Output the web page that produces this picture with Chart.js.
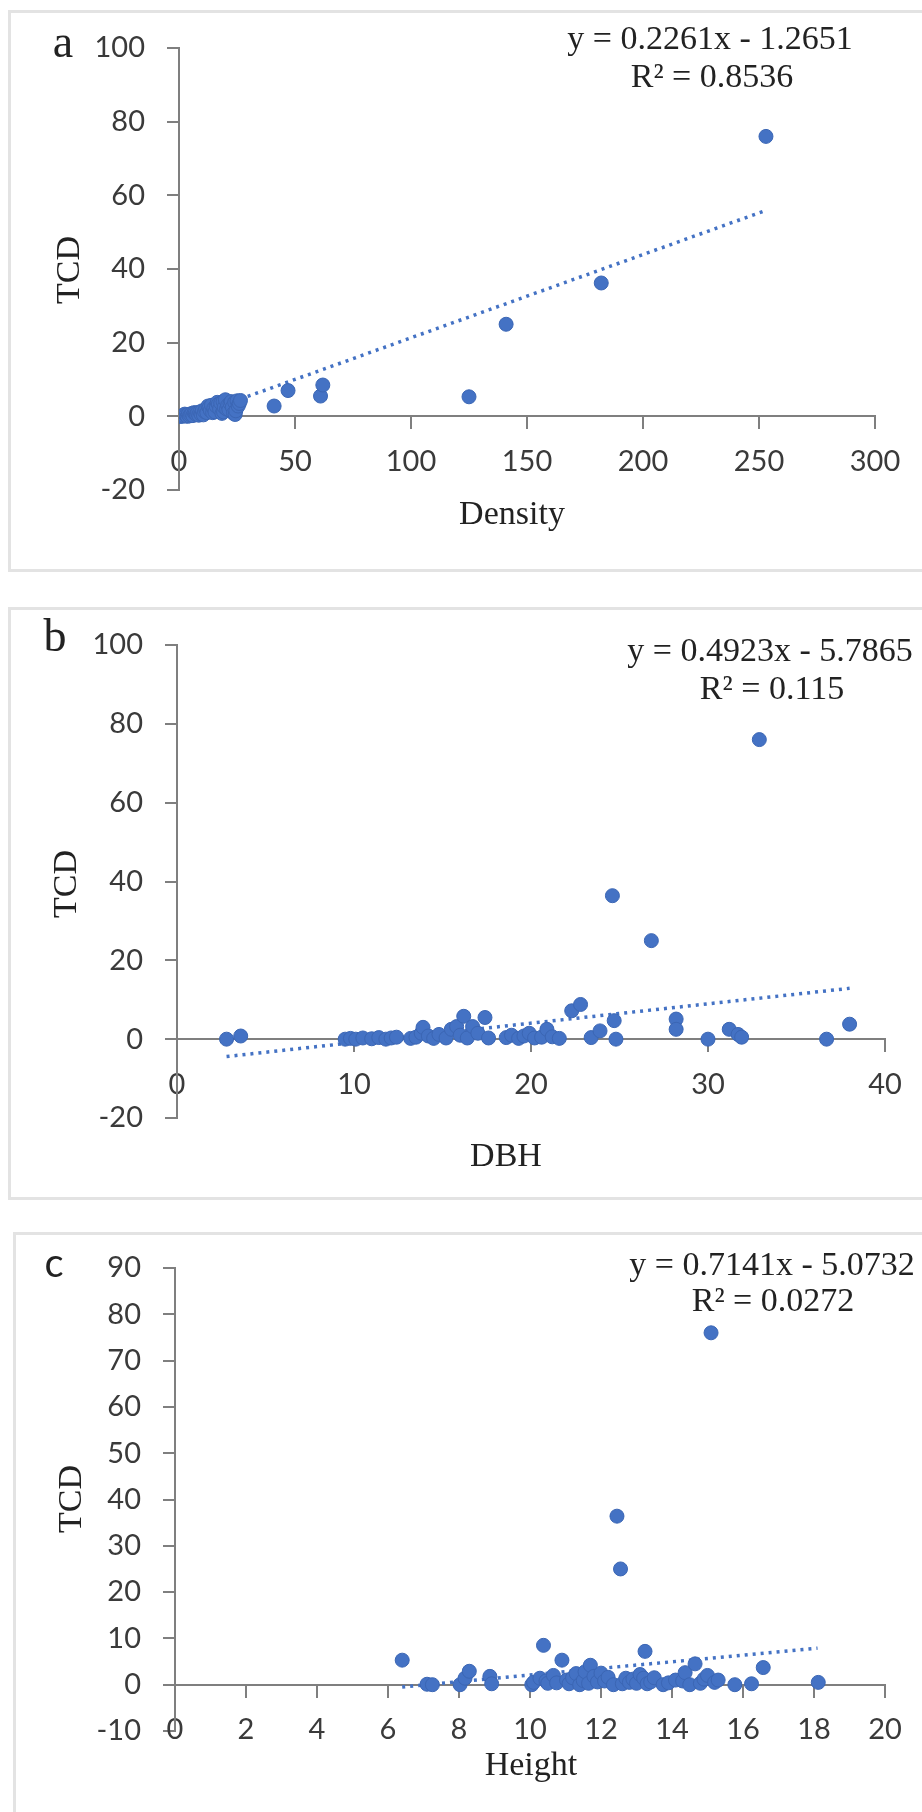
<!DOCTYPE html>
<html>
<head>
<meta charset="utf-8">
<script src="https://cdn.jsdelivr.net/npm/chart.js@4.4.0/dist/chart.umd.min.js"></script>
<style>
body{margin:0;width:922px;height:1812px;overflow:hidden;background:#fff;position:relative;font-family:"Liberation Serif","Times New Roman",serif;}
.box{position:absolute;border:3px solid #e3e3e3;box-sizing:border-box;}
canvas{position:absolute;left:0;}
.t{position:absolute;color:#222;white-space:nowrap;line-height:1;transform:translate(-50%,-50%);}
.eq{font-size:34px;}
.ax{font-size:34px;}
.lab{font-size:46px;}
.rot{transform:translate(-50%,-50%) rotate(-90deg);}
</style>
</head>
<body>
<div class="box" style="left:8px;top:10px;width:930px;height:562px"></div>
<div class="box" style="left:8px;top:607px;width:930px;height:593px"></div>
<div class="box" style="left:13px;top:1232px;width:930px;height:600px"></div>

<canvas id="chartA" width="922" height="572" style="top:0px"></canvas>
<canvas id="chartB" width="922" height="620" style="top:580px"></canvas>
<canvas id="chartC" width="922" height="600" style="top:1212px"></canvas>

<div class="t lab" style="left:63px;top:42px">a</div>
<div class="t eq" style="left:710px;top:38px">y = 0.2261x - 1.2651</div>
<div class="t eq" style="left:712px;top:76px">R² = 0.8536</div>
<div class="t ax rot" style="left:68px;top:270px">TCD</div>
<div class="t ax" style="left:512px;top:513px">Density</div>

<div class="t lab" style="left:55px;top:636px">b</div>
<div class="t eq" style="left:770px;top:650px">y = 0.4923x - 5.7865</div>
<div class="t eq" style="left:772px;top:688px">R² = 0.115</div>
<div class="t ax rot" style="left:65px;top:884px">TCD</div>
<div class="t ax" style="left:506px;top:1155px">DBH</div>

<div class="t" style="left:54px;top:1262px;font-family:Lato,sans-serif;font-size:40px">c</div>
<div class="t eq" style="left:772px;top:1264px">y = 0.7141x - 5.0732</div>
<div class="t eq" style="left:773px;top:1300px">R² = 0.0272</div>
<div class="t ax rot" style="left:70px;top:1499px">TCD</div>
<div class="t ax" style="left:531px;top:1764px">Height</div>

<script>
// panel a: TCD against density
const densityX = [0.5, 1, 1.5, 2, 2.5, 3, 3.5, 4, 4.5, 5, 5.5, 6, 6.5, 7, 7.5, 8, 8.5, 9, 9.5, 10,
    10.5, 11, 11.5, 12, 12.5, 13, 13.5, 14, 14.5, 15, 15.5, 16, 16.5, 17, 17.5, 18, 18.5, 19, 19.2, 19.5,
    20, 20.5, 21, 21.5, 22, 22.5, 23, 23.5, 24, 24.2, 24.5, 25, 25.5, 26, 26.5,
    41, 47, 61, 62, 125, 141, 182, 253];
const densityTCD = [0, 0.1, 0, 0.2, 0.6, 0.3, 0, 0.5, 0.1, 0.4, 0.8, 0.2, 1.0, 0.9, 0.5, 1.0, 0.3, 1.2, 0.6, 1.5,
    0.4, 1.3, 2.0, 1.0, 2.8, 2.4, 1.6, 3.0, 1.0, 2.2, 1.2, 2.8, 3.8, 3.3, 2.0, 3.6, 0.8, 4.0, 1.2, 2.5,
    4.5, 2.0, 3.0, 1.8, 3.5, 4.0, 2.5, 0.8, 3.8, 0.5, 1.5, 4.2, 2.8, 3.5, 4.3,
    2.8, 7.0, 5.5, 8.5, 5.3, 25, 36.2, 76];
const densityTrend = [[0.4, -1.2], [253.4, 56.0]];
const densityTicks = [0, 50, 100, 150, 200, 250, 300];
const tcdTicksAB = [-20, 0, 20, 40, 60, 80, 100];

// panel b: TCD against DBH
const dbhX = [2.8, 3.6, 9.5, 9.8, 10.1, 10.5, 11.0, 11.4, 11.8, 12.1, 12.4,
    13.2, 13.5, 13.8, 13.9, 14.2, 14.5, 14.8, 15.2, 15.5, 15.8, 16.0, 16.2, 16.4, 16.7, 17.0, 17.4, 17.6,
    18.6, 18.9, 19.3, 19.6, 19.9, 20.2, 20.6, 20.9, 21.2, 21.6,
    22.3, 22.8, 23.4, 23.9, 24.7, 24.8, 24.6, 26.8, 28.2, 28.2, 30.0, 31.2, 31.7, 31.9, 32.9, 36.7, 38.0];
const dbhTCD = [0, 0.8, 0, 0.2, 0, 0.3, 0.1, 0.4, 0, 0.3, 0.5,
    0.2, 0.5, 1.5, 3.0, 0.8, 0.2, 1.2, 0.3, 2.5, 3.2, 1.0, 5.8, 0.3, 3.2, 1.5, 5.5, 0.3,
    0.4, 1.0, 0.2, 0.8, 1.5, 0.3, 0.5, 2.5, 0.6, 0.2,
    7.2, 8.8, 0.4, 2.1, 4.7, 0, 36.4, 25, 5.1, 2.5, 0, 2.5, 1.2, 0.5, 76, 0, 3.8];
const dbhTrend = [[2.8, -4.4], [38.0, 12.9]];
const dbhTicks = [0, 10, 20, 30, 40];

// panel c: TCD against height
const heightX = [6.4, 7.1, 7.25, 8.03, 8.17, 8.29, 8.87, 8.92,
    10.05, 10.1, 10.28, 10.38, 10.45, 10.5, 10.66, 10.75, 10.9, 11.03, 11.1, 11.2, 11.3, 11.4, 11.5, 11.55,
    11.65, 11.7, 11.8, 11.9, 12.0, 12.1, 12.2,
    12.35, 12.45, 12.55, 12.6, 12.7, 12.8, 12.9, 13.0, 13.1, 13.2, 13.24, 13.3, 13.4, 13.5, 13.75, 13.9,
    14.1, 14.3, 14.37, 14.5, 14.65, 14.8, 14.9,
    15.0, 15.1, 15.2, 15.3, 15.77, 16.24, 16.57, 18.12];
const heightTCD = [5.3, 0.1, 0, 0, 1.4, 2.9, 1.8, 0.2,
    0, 0.5, 1.4, 8.5, 0.8, 0.3, 2, 0.4, 5.3, 1, 0.2, 1.5, 2.4, 0, 0.9, 2.8,
    0.3, 4.2, 1.8, 0.6, 2.5, 0.8, 1.6,
    0, 36.4, 25, 0.2, 1.4, 0.5, 1.2, 0.3, 2.2, 1.4, 7.2, 0.2, 0.6, 1.5, 0, 0.4,
    1, 0.8, 2.6, 0, 4.5, 0.3, 1.2,
    2, 76, 0.5, 1.0, 0, 0.2, 3.7, 0.5];
const heightTrend = [[6.4, -0.5], [18.1, 7.9]];
const heightTicks = [0, 2, 4, 6, 8, 10, 12, 14, 16, 18, 20];
const tcdTicksC = [-10, 0, 10, 20, 30, 40, 50, 60, 70, 80, 90];

const BLUE = '#4472C4';
const AXIS = '#7f7f7f';

function axis(ticks, pad) {
    return {
        type: 'linear',
        min: ticks[0],
        max: ticks[ticks.length - 1],
        afterBuildTicks: s => { s.ticks = ticks.map(v => ({value: v})); },
        ticks: {color: '#3a3a3a', font: {family: 'Lato', size: 29}, padding: pad, autoSkip: false, maxRotation: 0},
        grid: {drawOnChartArea: false, drawTicks: true, tickLength: 12, color: AXIS, lineWidth: 2},
        border: {display: true, color: AXIS, width: 2}
    };
}

function panel(id, xs, ys, trend, xTicks, yTicks, pad) {
    const x = axis(xTicks, 16);
    x.position = {y: 0};
    x.afterFit = s => { s.height = 0; };
    const y = axis(yTicks, 22);
    y.afterFit = s => { s.width = 150; };

    new Chart(document.getElementById(id), {
        type: 'scatter',
        data: {
            datasets: [
                {
                    data: xs.map((v, i) => ({x: v, y: ys[i]})),
                    backgroundColor: BLUE,
                    borderColor: '#3b66b4',
                    borderWidth: 1,
                    pointRadius: 7
                },
                {
                    data: trend.map(p => ({x: p[0], y: p[1]})),
                    showLine: true,
                    borderColor: BLUE,
                    borderWidth: 3.5,
                    borderDash: [3, 5],
                    pointRadius: 0
                }
            ]
        },
        options: {
            responsive: false,
            animation: false,
            devicePixelRatio: 1,
            layout: {padding: pad},
            plugins: {legend: {display: false}, tooltip: {enabled: false}},
            scales: {x: x, y: y}
        }
    });
}

panel('chartA', densityX, densityTCD, densityTrend, densityTicks, tcdTicksAB, {left: 29, top: 48, right: 47, bottom: 82});
panel('chartB', dbhX, dbhTCD, dbhTrend, dbhTicks, tcdTicksAB, {left: 27, top: 65, right: 37, bottom: 82});
panel('chartC', heightX, heightTCD, heightTrend, heightTicks, tcdTicksC, {left: 25, top: 56, right: 37, bottom: 81});
</script>
</body>
</html>
